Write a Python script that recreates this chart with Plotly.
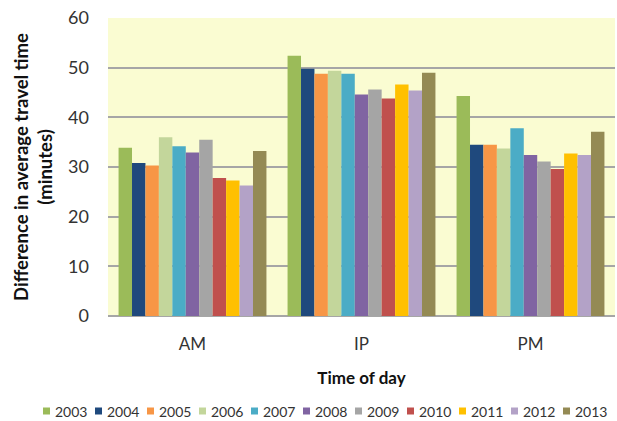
import plotly.graph_objects as go

categories = ["AM", "IP", "PM"]
years = ["2003", "2004", "2005", "2006", "2007", "2008", "2009", "2010", "2011", "2012", "2013"]
v2003 = [33.9, 52.4, 44.3]
v2004 = [30.8, 49.8, 34.5]
v2005 = [30.3, 48.8, 34.5]
v2006 = [36.0, 49.4, 33.7]
v2007 = [34.2, 48.8, 37.8]
v2008 = [32.9, 44.6, 32.4]
v2009 = [35.5, 45.6, 31.1]
v2010 = [27.8, 43.8, 29.6]
v2011 = [27.3, 46.6, 32.7]
v2012 = [26.3, 45.4, 32.4]
v2013 = [33.2, 49.0, 37.1]
series = [v2003, v2004, v2005, v2006, v2007, v2008, v2009, v2010, v2011, v2012, v2013]
colors = ["#9BBB59", "#1F497D", "#F79646", "#C3D69B", "#4BACC6", "#8064A2",
          "#A5A5A5", "#C0504D", "#FFC000", "#B3A2C7", "#948A54"]
y_ticks = [0, 10, 20, 30, 40, 50, 60]

font = "Lato"
W, H = 617, 421
ML, MR, MT, MB = 108, 2, 18, 105
PW, PH = W - ML - MR, H - MT - MB

fig = go.Figure()
for yr, vals, c in zip(years, series, colors):
    fig.add_trace(go.Bar(x=categories, y=vals, name=yr, marker=dict(color=c, line=dict(width=0)),
                         showlegend=False))

# custom single-row legend (pixel layout converted to paper coords)
leg_x0, leg_step, leg_y, sw = 43, 52, 411, 7
for i, (yr, c) in enumerate(zip(years, colors)):
    px = leg_x0 + i * leg_step
    fig.add_shape(type="rect", xref="paper", yref="paper",
                  x0=(px - ML) / PW, x1=(px + sw - ML) / PW,
                  y0=(H - MB - (leg_y + sw / 2)) / PH, y1=(H - MB - (leg_y - sw / 2)) / PH,
                  fillcolor=c, line=dict(width=0))
    fig.add_annotation(text=yr, xref="paper", yref="paper",
                       x=(px + sw + 3 - ML) / PW, y=(H - MB - leg_y) / PH,
                       xanchor="left", yanchor="middle", showarrow=False,
                       font=dict(size=14, family=font, color="#333333"))

fig.update_layout(
    width=W, height=H,
    margin=dict(l=ML, r=MR, t=MT, b=MB),
    barmode="group", bargap=0.125, bargroupgap=0,
    plot_bgcolor="#FAFCD2", paper_bgcolor="white",
    font=dict(family=font, color="#333333"),
    showlegend=False,
)
fig.update_xaxes(
    title=dict(text="<b>Time of day</b>", font=dict(size=17, family=font, color="#111111"), standoff=19),
    tickfont=dict(size=17, family=font, color="#333333"), showline=False, ticks="",
    ticklabelstandoff=16,
)
fig.update_yaxes(
    range=[0, 60], tickvals=y_ticks,
    title=dict(text="<b>Difference in average travel time<br>(minutes)</b>",
               font=dict(size=18.5, family=font, color="#111111"), standoff=10),
    tickfont=dict(size=18, family=font, color="#333333"),
    ticklabelstandoff=18,
    showgrid=True, gridcolor="#A6A6A6", gridwidth=1.5,
    zeroline=True, zerolinecolor="#A6A6A6", zerolinewidth=1.5,
)
fig.write_html("out.html", config={"displayModeBar": False},
               post_script="document.body.style.margin='0px';")
